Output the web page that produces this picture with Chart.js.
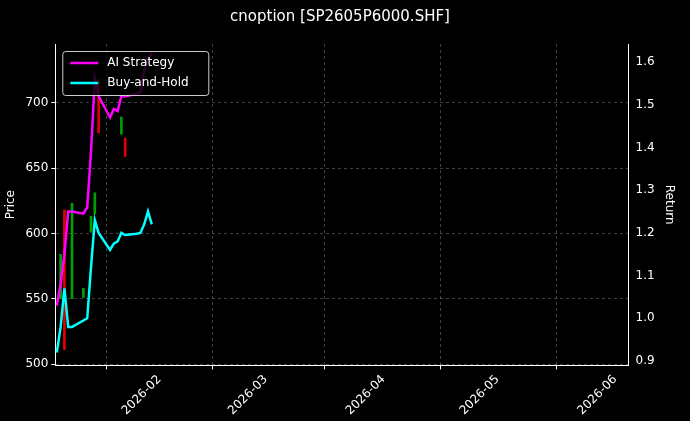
<!DOCTYPE html>
<html><head><meta charset="utf-8">
<script src="https://cdn.jsdelivr.net/npm/chart.js@4"></script>
<style>html,body{margin:0;background:#000}</style>
</head><body><canvas id="c" width="690" height="421"></canvas>
<script>
// day index: 0 = 2026-01-01
const days = [4,5,6,7,8,11,12,13,14,15,18,19,20,21,22,25,26,27,28,29];
const aiStrategy = [1.03,1.08,1.15,1.25,1.25,1.245,1.26,1.39,1.56,1.52,1.47,1.49,1.485,1.52,1.52,1.525,1.53,1.58,1.61,1.62];
const buyHold = [0.92,0.98,1.07,0.98,0.98,0.995,1.00,1.12,1.23,1.20,1.16,1.175,1.18,1.20,1.195,1.198,1.20,1.22,1.25,1.22];
const candleDays = [5,6,8,11,13,14,15,21,22];
const candleOpen = [550,618,550,551,601,615,718,676,673];
const candleClose = [584,511,623,558,613,631,677,689,659];
const monthTicks = [31,59,90,120,151];
const monthLabels = ['2026-02','2026-03','2026-04','2026-05','2026-06'];

const candles = candleDays.map((d,i)=>({x:d,y:[candleOpen[i],candleClose[i]]}));
const candleColors = candleDays.map((d,i)=>candleClose[i]>=candleOpen[i]?'#00a000':'#e00000');

const legendPlugin = {id:'lg',afterDraw(ch){
  const c=ch.ctx,a=ch.chartArea;const x=a.left+7,y=a.top+7;
  c.save();c.fillStyle='rgba(0,0,0,0.8)';c.strokeStyle='#cccccc';c.lineWidth=1;
  c.beginPath();c.roundRect(x+0.5,y+0.5,146,44,3);c.fill();c.stroke();
  c.font='12px "DejaVu Sans"';c.textBaseline='middle';
  [['AI Strategy','#ff00ff'],['Buy-and-Hold','#00ffff']].forEach((it,i)=>{
    const yy=y+12+i*20;c.strokeStyle=it[1];c.lineWidth=2.5;c.beginPath();c.moveTo(x+8,yy);c.lineTo(x+36,yy);c.stroke();
    c.fillStyle='#fff';c.fillText(it[0],x+45,yy);});
  c.restore();}};
const bgPlugin={id:'bg',beforeDraw(ch){const c=ch.ctx;c.save();c.fillStyle='#000';c.fillRect(0,0,ch.width,ch.height);c.restore();}};

new Chart(document.getElementById('c'),{
  type:'line',
  data:{datasets:[
    {type:'bar',data:candles,backgroundColor:candleColors,barThickness:2,yAxisID:'y',order:3},
    {label:'AI Strategy',data:days.map((d,i)=>({x:d,y:aiStrategy[i]})),borderColor:'#ff00ff',borderWidth:2.5,pointRadius:0,yAxisID:'y1',tension:0},
    {label:'Buy-and-Hold',data:days.map((d,i)=>({x:d,y:buyHold[i]})),borderColor:'#00ffff',borderWidth:2.5,pointRadius:0,yAxisID:'y1',tension:0}
  ]},
  options:{responsive:false,animation:false,
    layout:{padding:{top:0,right:10,left:0,bottom:0}},
    plugins:{legend:{display:false},tooltip:{enabled:false},
      title:{display:true,text:'cnoption [SP2605P6000.SHF]',color:'#fff',font:{family:'DejaVu Sans',size:15,weight:'normal'},padding:{top:8,bottom:18}}},
    scales:{
      x:{type:'linear',min:3.6,max:154.5,offset:false,
        afterBuildTicks(s){s.ticks=monthTicks.map(v=>({value:v}));},
        ticks:{color:'#fff',font:{family:'DejaVu Sans',size:12},maxRotation:45,minRotation:45,autoSkip:false,
          callback:(v)=>monthLabels[monthTicks.indexOf(v)]},
        grid:{color:'rgba(128,128,128,0.5)',tickColor:'#fff',tickLength:4},border:{color:'#fff',dash:[3,3]}},
      y:{position:'left',min:499,max:745,
        afterBuildTicks(s){s.ticks=[500,550,600,650,700].map(v=>({value:v}));},
        ticks:{color:'#fff',font:{family:'DejaVu Sans',size:12}},
        title:{display:true,text:'Price',color:'#fff',font:{family:'DejaVu Sans',size:12}},
        grid:{color:'rgba(128,128,128,0.5)',tickColor:'#fff',tickLength:4},border:{color:'#fff',dash:[3,3]}},
      y1:{position:'right',min:0.89,max:1.642,
        afterBuildTicks(s){s.ticks=[0.9,1.0,1.1,1.2,1.3,1.4,1.5,1.6].map(v=>({value:v}));},
        ticks:{color:'#fff',font:{family:'DejaVu Sans',size:12},callback:v=>v.toFixed(1)},
        title:{display:true,text:'Return',color:'#fff',font:{family:'DejaVu Sans',size:12}},
        grid:{display:false,tickColor:'#fff',tickLength:4},border:{color:'#fff'}}
    }},
  plugins:[bgPlugin,legendPlugin]
});
</script></body></html>
